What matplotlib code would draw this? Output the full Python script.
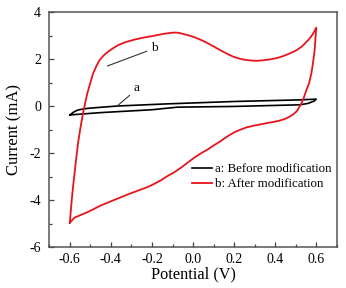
import matplotlib
matplotlib.use("Agg")
import matplotlib.pyplot as plt
import numpy as np
from matplotlib.ticker import MultipleLocator

plt.rcParams['font.family'] = ['Liberation Serif', 'DejaVu Serif']
plt.rcParams['axes.unicode_minus'] = False

# Curve b: After modification (closed CV loop)
b_x = [-0.6, -0.592, -0.584, -0.572, -0.56, -0.548, -0.536, -0.525, -0.515, -0.5, -0.487,
       -0.47, -0.455, -0.435, -0.415, -0.39, -0.366, -0.33, -0.286, -0.245, -0.205,
       -0.17, -0.141, -0.115, -0.093, -0.07, -0.052, -0.025, 0.004, 0.035, 0.069, 0.1, 0.133,
       0.165, 0.197, 0.23, 0.262, 0.285, 0.31, 0.34, 0.375, 0.41, 0.439, 0.47, 0.504,
       0.53, 0.552, 0.57, 0.584, 0.6,
       0.596, 0.592, 0.584, 0.576, 0.565, 0.552, 0.54, 0.528, 0.515, 0.504, 0.488, 0.471,
       0.45, 0.423, 0.39, 0.358, 0.294, 0.26, 0.23, 0.205, 0.181, 0.157, 0.133,
       0.1, 0.069, 0.035, 0.004, -0.03, -0.06, -0.09, -0.125, -0.155, -0.189, -0.22, -0.254,
       -0.318, -0.383, -0.447, -0.511, -0.576, -0.6]
b_y = [-4.95, -4.1, -3.39, -2.45, -1.56, -0.9, -0.30, 0.15, 0.55, 1.0, 1.39,
       1.72, 1.96, 2.16, 2.31, 2.46, 2.59, 2.72, 2.83, 2.91, 2.97,
       3.03, 3.08, 3.11, 3.13, 3.12, 3.08, 3.02, 2.94, 2.83, 2.69, 2.54, 2.38,
       2.23, 2.10, 2.01, 1.96, 1.94, 1.93, 1.95, 1.99, 2.05, 2.13, 2.24, 2.38,
       2.54, 2.73, 2.9, 3.08, 3.34,
       2.9, 2.38, 1.85, 1.39, 0.98, 0.69, 0.38, 0.13, -0.07, -0.22, -0.34, -0.44,
       -0.53, -0.61, -0.67, -0.72, -0.83, -0.9, -1.0, -1.09, -1.21, -1.34, -1.49,
       -1.67, -1.85, -2.02, -2.2, -2.42, -2.62, -2.8, -2.97, -3.14, -3.30, -3.43, -3.54,
       -3.75, -3.98, -4.21, -4.49, -4.73, -4.95]

# Curve a: Before modification
a_x = [-0.6, -0.58, -0.56, -0.53, -0.5, -0.366, -0.125, 0.197, 0.52, 0.6,
       0.59, 0.56, 0.52, 0.197, -0.076, -0.2, -0.447, -0.6]
a_y = [-0.37, -0.24, -0.16, -0.11, -0.08, 0.01, 0.10, 0.20, 0.27, 0.30,
       0.22, 0.12, 0.06, -0.01, -0.04, -0.15, -0.27, -0.37]

fig = plt.figure(figsize=(3.46, 2.88), dpi=100)
ax = fig.add_axes([0.1425, 0.141, 0.831, 0.817])

ax.plot(a_x, a_y, color='black', lw=1.2, label='a: Before modification')
ax.plot(b_x, b_y, color='#e8141c', lw=1.3, label='b: After modification')

ax.set_xlim(-0.7, 0.7)
ax.set_ylim(-6, 4)
ax.xaxis.set_minor_locator(MultipleLocator(0.1))
ax.yaxis.set_major_locator(MultipleLocator(2))
ax.yaxis.set_minor_locator(MultipleLocator(1))
ax.set_xticks([-0.6, -0.4, -0.2, 0.0, 0.2, 0.4, 0.6])
ax.set_xticklabels(['-0.6', '-0.4', '-0.2', '0.0', '0.2', '0.4', '0.6'])
ax.tick_params(which='both', direction='in', colors='#444444', labelcolor='black', labelsize=10, width=0.9)
ax.tick_params(which='major', length=3.5)
ax.tick_params(which='minor', length=2)
ax.tick_params(axis='x', pad=4)
ax.tick_params(axis='y', pad=6)
for s in ax.spines.values():
    s.set_color('#555555')
    s.set_linewidth(1.1)

ax.set_xlabel('Potential (V)', fontsize=11.7, labelpad=0)
ax.set_ylabel('Current (mA)', fontsize=12, labelpad=5)

ax.annotate('b', xy=(-0.417, 1.71), xytext=(-0.205, 2.2), fontsize=9.5,
            arrowprops=dict(arrowstyle='-', color='#333333', lw=0.8, shrinkA=1, shrinkB=0,
                            relpos=(0, 0.4)),
            ha='left', va='bottom')
ax.annotate('a', xy=(-0.368, 0.02), xytext=(-0.29, 0.5), fontsize=9.5,
            arrowprops=dict(arrowstyle='-', color='#333333', lw=0.8, shrinkA=1, shrinkB=0,
                            relpos=(0, 0.2)),
            ha='left', va='bottom')

ax.legend(loc='lower right', bbox_to_anchor=(1.01, 0.21), frameon=False, fontsize=9.3,
          handlelength=1.5, handletextpad=0.3, labelspacing=0.22, borderaxespad=0.2)

fig.savefig('out.png', dpi=100)
